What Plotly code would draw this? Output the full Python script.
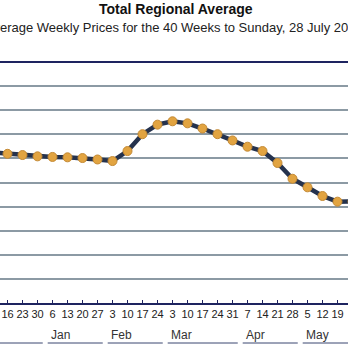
import plotly.graph_objects as go

# Weekly dates (week ending Sunday), visible portion of the chart
day_labels = ["9", "16", "23", "30", "6", "13", "20", "27", "3", "10", "17", "24",
              "3", "10", "17", "24", "31", "7", "14", "21", "28", "5", "12", "19", "26"]
prices = [148.49, 148.38, 148.28, 148.17, 148.12, 148.09, 148.03, 147.91, 147.78,
          148.61, 150.01, 150.80, 151.08, 150.91, 150.48, 150.01, 149.49, 148.97,
          148.61, 147.62, 146.31, 145.60, 144.88, 144.41, 144.42]
months = ["", "Jan", "Feb", "Mar", "Apr", "May"]   # Dec label lies outside the visible area
month_start_idx = [-0.5, 3.5, 7.5, 11.5, 16.5, 20.5]   # group boundaries (between weeks)
month_end_idx = [3.5, 7.5, 11.5, 16.5, 20.5, 24.5]

x_idx = list(range(len(prices)))
X_MIN, X_MAX = 0.5, 23.7
Y_MIN, Y_MAX = 136, 156

fig = go.Figure()
fig.add_trace(go.Scatter(
    x=x_idx, y=prices, mode="lines+markers",
    line=dict(color="#25324d", width=4.5),
    marker=dict(size=9, color="#e2a441", line=dict(color="#c48a35", width=1)),
    hoverinfo="skip", showlegend=False,
))

def to_paper(v):
    return (v - X_MIN) / (X_MAX - X_MIN)

shapes = []
annotations = []
for name, s, e in zip(months, month_start_idx, month_end_idx):
    shapes.append(dict(type="line", xref="paper", yref="paper",
                       x0=to_paper(s + 0.18), x1=to_paper(e - 0.15),
                       y0=-0.166, y1=-0.166,
                       line=dict(color="#3b4770", width=1)))
    if name:
        annotations.append(dict(text=name, xref="paper", yref="paper",
                                x=to_paper(s + 0.27), y=-0.132, xanchor="left", yanchor="middle",
                                showarrow=False, font=dict(size=12, color="#333333")))

annotations.append(dict(text="<b>Total Regional Average</b>", xref="paper", yref="paper",
                        x=0.505, y=1.0, yshift=53, xanchor="center", yanchor="middle",
                        showarrow=False, font=dict(size=14, color="#111111")))
annotations.append(dict(text="Average Weekly Prices for the 40 Weeks to Sunday, 28 July 2013",
                        xref="paper", yref="paper",
                        x=0.5, y=1.0, yshift=35, xanchor="center", yanchor="middle",
                        showarrow=False, font=dict(size=13, color="#222222")))

fig.update_layout(
    width=348, height=348,
    margin=dict(l=0, r=0, t=62, b=45, pad=0),
    paper_bgcolor="white", plot_bgcolor="white",
    font=dict(family="Liberation Sans, Arial, sans-serif"),
    shapes=shapes, annotations=annotations,
    xaxis=dict(range=[X_MIN, X_MAX], tickmode="array", tickvals=x_idx, ticktext=day_labels,
               showgrid=False, zeroline=False,
               showline=True, linecolor="#1e2460", linewidth=2,
               ticks="inside", ticklen=3, tickwidth=1, tickcolor="#1e2460",
               tickfont=dict(size=11, color="#222222")),
    yaxis=dict(range=[Y_MIN, Y_MAX], dtick=2, showticklabels=False,
               showgrid=True, gridcolor="#8c9aa4", gridwidth=1.5,
               zeroline=False, showline=False),
)
# top border of the plot area
fig.add_shape(type="line", xref="paper", yref="paper", x0=0, x1=1, y0=1, y1=1,
              line=dict(color="#1e2460", width=2))

fig.write_html("out.html")
